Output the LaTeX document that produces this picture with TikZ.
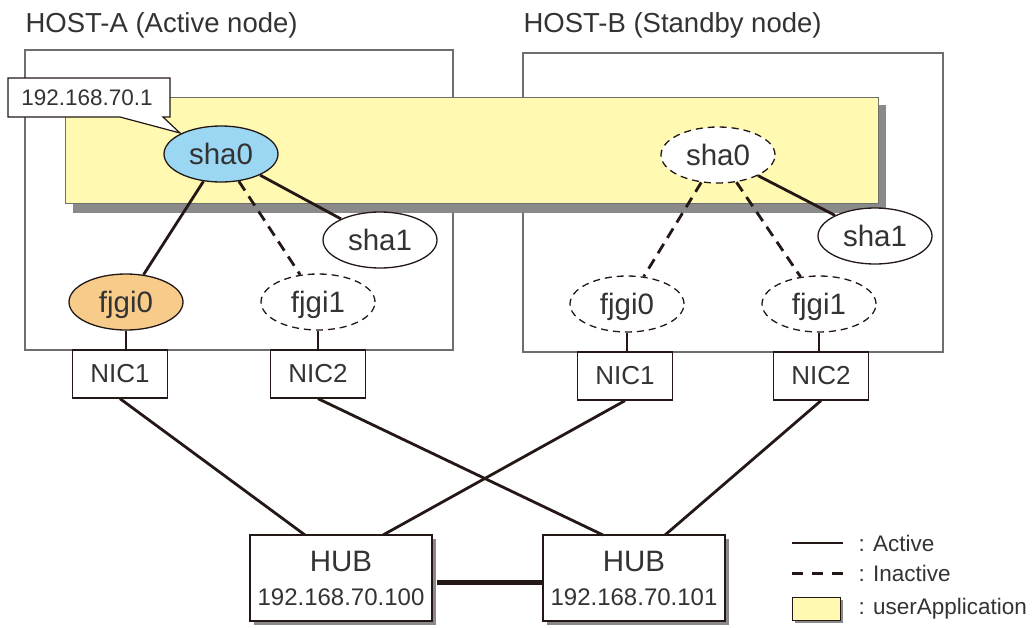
\documentclass[tikz,border=0pt]{standalone}
\usepackage{fontspec}
\setmainfont{Liberation Sans}
\usetikzlibrary{shapes.geometric,shadows,calc}
\definecolor{ink}{HTML}{231815}
\definecolor{txt}{HTML}{333333}
\definecolor{frame}{HTML}{6E6E6E}
\definecolor{appyellow}{HTML}{FFF9B1}
\definecolor{shadowgrey}{HTML}{8A8A8A}
\definecolor{shablue}{HTML}{9BD7F2}
\definecolor{fjorange}{HTML}{F7CB8A}
\begin{document}
\begin{tikzpicture}[x=1pt,y=-1pt,
  every node/.style={text=txt, font=\fontsize{29.5}{32}\selectfont},
  ifell/.style={ellipse, draw=ink, line width=1.3, fill=white, minimum width=114, minimum height=56, inner sep=0, text height=21, text depth=0},
  inact/.style={ifell, dash pattern=on 7pt off 5pt},
  nicbox/.style={draw=ink, line width=1.3, fill=white, minimum width=95, minimum height=48, inner sep=0, font=\fontsize{26}{28}\selectfont},
  hubbox/.style={draw=ink, line width=1.3, fill=white, minimum width=182, minimum height=86, inner sep=0,
     drop shadow={shadow xshift=4pt, shadow yshift=-4pt, fill=shadowgrey, opacity=1}},
  hostbox/.style={draw=frame, line width=2, inner sep=0},
  act/.style={draw=ink, line width=2.8},
  inactline/.style={draw=ink, line width=2.8, dash pattern=on 11pt off 7pt},
  small/.style={font=\fontsize{22.5}{24}\selectfont},
  hubip/.style={font=\fontsize{24}{26}\selectfont},
  title/.style={anchor=west, font=\fontsize{27.5}{30}\selectfont},
]
\useasboundingbox (0,0) rectangle (1033,627);

% host titles
\node[title] (tA) at (22,25) {HOST-A (Active node)};
\node[title] (tB) at (520,25) {HOST-B (Standby node)};

% host frames
\node[hostbox, minimum width=428, minimum height=300] (hostA) at (239,200) {};
\node[hostbox, minimum width=420, minimum height=299] (hostB) at (733,202.5) {};

% userApplication band with shadow
\fill[shadowgrey] (73,105) rectangle (886,213);
\node[draw=frame, line width=1, fill=appyellow, minimum width=813, minimum height=106, inner sep=0] (band) at (471.5,150) {};

% callout
\draw[ink, line width=1.2, fill=white] (8,78) -- (170,78) -- (170,117) -- (163,117) -- (180,133) -- (120,117) -- (8,117) -- cycle;
\node[small] (callout) at (87,98) {192.168.70.1};

% interface ellipses
\node[ifell, fill=shablue] (shaA) at (221,154) {sha0};
\node[ifell] (sha1A) at (380,240) {sha1};
\node[ifell, fill=fjorange] (fjA0) at (126,302) {fjgi0};
\node[inact] (fjA1) at (318,302) {fjgi1};
\node[inact] (shaB) at (718,155) {sha0};
\node[ifell] (sha1B) at (875,236) {sha1};
\node[inact] (fjB0) at (627,304) {fjgi0};
\node[inact] (fjB1) at (819,304) {fjgi1};

% NICs
\node[nicbox] (nicA1) at (120,374) {NIC1};
\node[nicbox] (nicA2) at (318,374) {NIC2};
\node[nicbox] (nicB1) at (625,376) {NIC1};
\node[nicbox] (nicB2) at (821,376) {NIC2};

% HUBs
\node[hubbox] (hub1) at (341,578) {};
\node[hubbox] (hub2) at (634,578) {};
\node (hub1t) at (341,561) {HUB};
\node[hubip] (hub1ip) at (341,597) {192.168.70.100};
\node (hub2t) at (634,561) {HUB};
\node[hubip] (hub2ip) at (634,597) {192.168.70.101};

% connectors inside hosts
\draw[act] (shaA) -- (fjA0);
\draw[inactline] (shaA) -- (fjA1);
\draw[act] (shaA) -- (sha1A);
\draw[inactline] (shaB) -- (fjB0);
\draw[inactline] (shaB) -- (fjB1);
\draw[act] (shaB) -- (sha1B);
\draw[act] (fjA0.south) -- (fjA0.south |- nicA1.north);
\draw[act] (fjA1.south) -- (fjA1.south |- nicA2.north);
\draw[act] (fjB0.south) -- (fjB0.south |- nicB1.north);
\draw[act] (fjB1.south) -- (fjB1.south |- nicB2.north);

% NIC to HUB
\coordinate (h1a) at (305,535);
\coordinate (h1b) at (383,535);
\coordinate (h2a) at (603,535);
\coordinate (h2b) at (665,535);
\draw[act] (nicA1.south) -- (h1a);
\draw[act] (nicB1.south) -- (h1b);
\draw[act] (nicA2.south) -- (h2a);
\draw[act] (nicB2.south) -- (h2b);
\draw[draw=ink, line width=5] ([xshift=4pt,yshift=-4pt]hub1.east) -- ([yshift=-4pt]hub2.west);

% legend
\coordinate (la1) at (792,543);
\coordinate (la2) at (843,543);
\coordinate (lb1) at (792,573);
\coordinate (lb2) at (843,573);
\draw[act] (la1) -- (la2);
\draw[draw=ink, line width=3, dash pattern=on 11pt off 9pt] (lb1) -- (lb2);
\fill[shadowgrey] (795,600) rectangle (843,623);
\node[draw=ink, line width=1, fill=appyellow, minimum width=48, minimum height=23, inner sep=0] (lbox) at (816,608.5) {};
\node[small, anchor=west] (lta) at (855,543) {: Active};
\node[small, anchor=west] (ltb) at (855,573) {: Inactive};
\node[small, anchor=west] (ltc) at (855,608.5) {: userApplication};
\end{tikzpicture}
\end{document}
